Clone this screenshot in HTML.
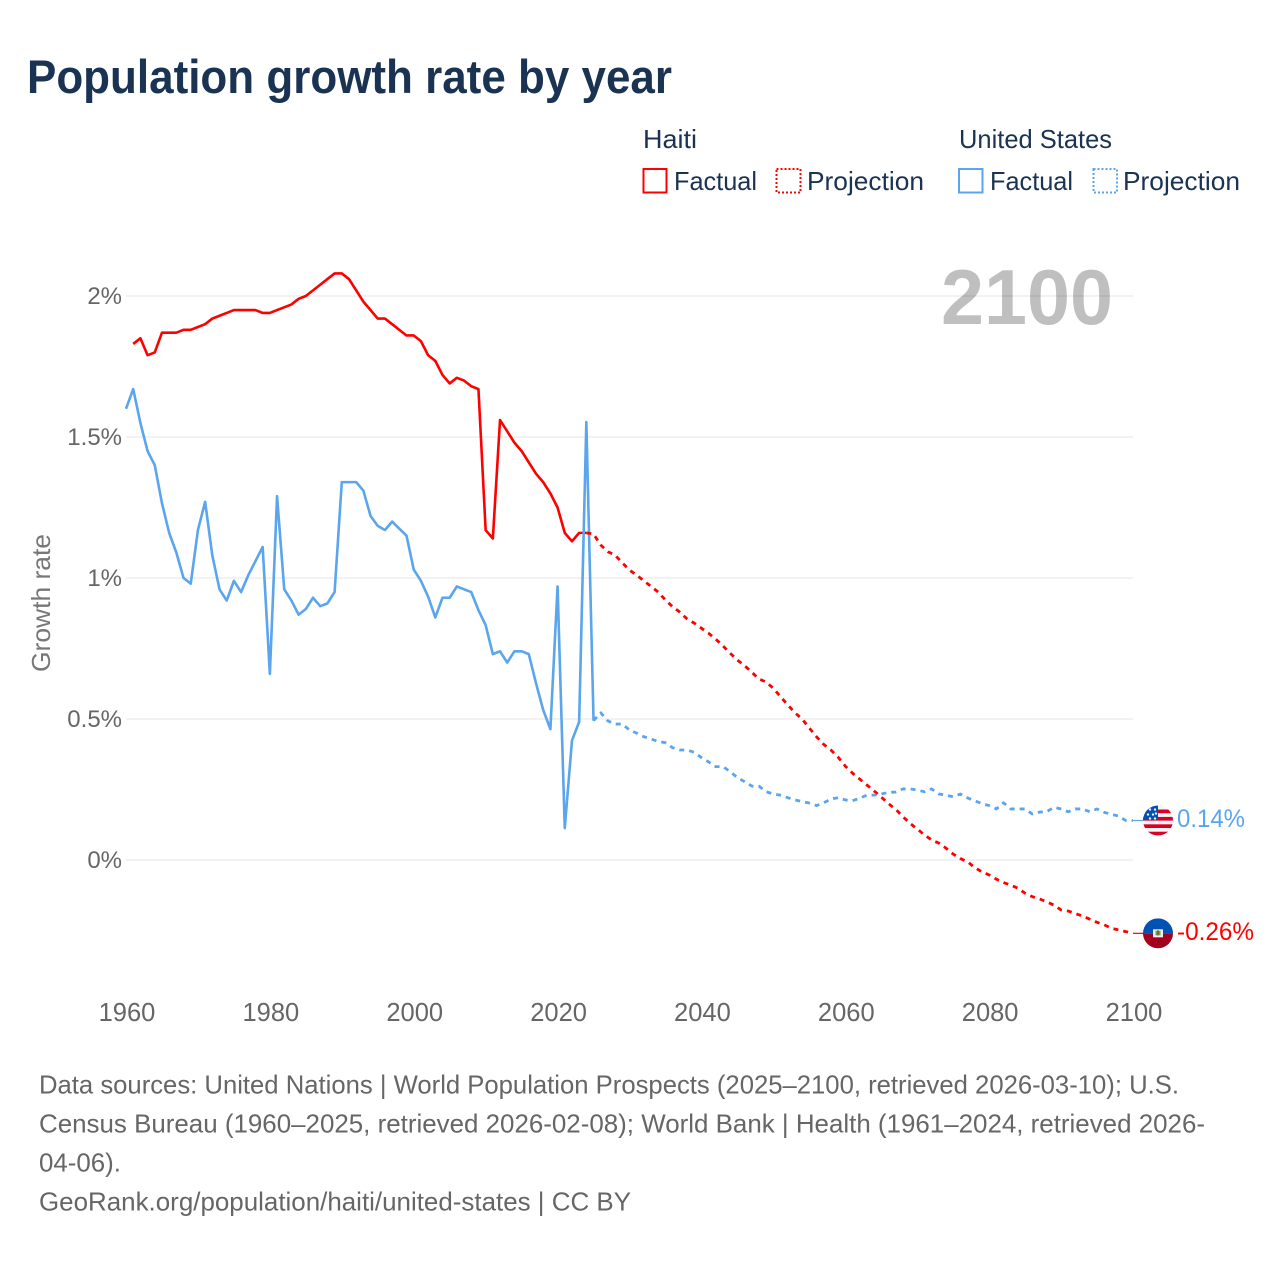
<!DOCTYPE html>
<html lang="en">
<head>
<meta charset="utf-8">
<title>Population growth rate by year</title>
<style>
html,body{margin:0;padding:0;background:#fff;width:1280px;height:1280px;overflow:hidden}
svg{display:block}
text{font-family:"Liberation Sans",sans-serif}
</style>
</head>
<body>
<svg id="chart" xmlns="http://www.w3.org/2000/svg" width="1280" height="1280" viewBox="0 0 1280 1280">
  <defs>
    <clipPath id="us-clip"><circle cx="0" cy="0" r="15"/></clipPath>
    <clipPath id="ht-clip"><circle cx="0" cy="0" r="15"/></clipPath>
  </defs>
  <rect width="1280" height="1280" fill="#fff"/>
  <text x="27" y="93" font-size="47" font-weight="700" fill="#1a3353" textLength="645" lengthAdjust="spacingAndGlyphs">Population growth rate by year</text>

  <g font-size="26" fill="#1a3353">
    <text x="643" y="148" textLength="54" lengthAdjust="spacingAndGlyphs">Haiti</text>
    <text x="959" y="148" textLength="153" lengthAdjust="spacingAndGlyphs">United States</text>
    <rect x="643.5" y="169" width="23" height="23.5" fill="none" stroke="#ff0000" stroke-width="2"/>
    <text x="674" y="190" textLength="83" lengthAdjust="spacingAndGlyphs">Factual</text>
    <rect x="776.5" y="169" width="24" height="23.5" fill="none" stroke="#ff0000" stroke-width="2" stroke-dasharray="2 2"/>
    <text x="807" y="190" textLength="117" lengthAdjust="spacingAndGlyphs">Projection</text>
    <rect x="959" y="169" width="23.5" height="23.5" fill="none" stroke="#5aa5ee" stroke-width="2"/>
    <text x="990" y="190" textLength="83" lengthAdjust="spacingAndGlyphs">Factual</text>
    <rect x="1093.5" y="169" width="23.5" height="23.5" fill="none" stroke="#5aa5ee" stroke-width="2" stroke-dasharray="2 2"/>
    <text x="1123" y="190" textLength="117" lengthAdjust="spacingAndGlyphs">Projection</text>
  </g>

  <g id="grid"></g>
  <g id="y-ticks" font-size="24" fill="#666" text-anchor="end"></g>
  <g id="x-ticks" font-size="25.5" fill="#666" text-anchor="middle"></g>
  <text transform="translate(50,672) rotate(-90)" font-size="26" fill="#777" textLength="138" lengthAdjust="spacingAndGlyphs">Growth rate</text>
  <text x="941" y="324" font-size="78" font-weight="700" fill="#000" fill-opacity="0.25" textLength="172" lengthAdjust="spacingAndGlyphs">2100</text>

  <g id="series" fill="none" stroke-width="2.6" stroke-linejoin="round"></g>
  <g id="end-markers"></g>

  <g font-size="26" fill="#666">
    <text x="39" y="1093.5" textLength="1140" lengthAdjust="spacingAndGlyphs">Data sources: United Nations | World Population Prospects (2025–2100, retrieved 2026-03-10); U.S.</text>
    <text x="39" y="1132.5" textLength="1166" lengthAdjust="spacingAndGlyphs">Census Bureau (1960–2025, retrieved 2026-02-08); World Bank | Health (1961–2024, retrieved 2026-</text>
    <text x="39" y="1171.5" textLength="82" lengthAdjust="spacingAndGlyphs">04-06).</text>
    <text x="39" y="1210.5" textLength="592" lengthAdjust="spacingAndGlyphs">GeoRank.org/population/haiti/united-states | CC BY</text>
  </g>
</svg>
<script>
var xTicks = [1960, 1980, 2000, 2020, 2040, 2060, 2080, 2100];
var yTicks = [0, 0.5, 1, 1.5, 2];
var yTickLabels = ['0%', '0.5%', '1%', '1.5%', '2%'];

var haitiFactualStart = 1961;
var haitiFactual = [1.83,1.85,1.79,1.80,1.87,1.87,1.87,1.88,1.88,1.89,1.90,1.92,1.93,1.94,1.95,1.95,1.95,1.95,1.94,1.94,1.95,1.96,1.97,1.99,2.00,2.02,2.04,2.06,2.08,2.08,2.06,2.02,1.98,1.95,1.92,1.92,1.90,1.88,1.86,1.86,1.84,1.79,1.77,1.72,1.69,1.71,1.70,1.68,1.67,1.17,1.14,1.56,1.52,1.48,1.45,1.41,1.37,1.34,1.30,1.25,1.16,1.13,1.16,1.16];

var haitiProjectionStart = 2024;
var haitiProjection = [1.16,1.156,1.117,1.093,1.081,1.054,1.028,1.01,0.99,0.97,0.95,0.922,0.898,0.879,0.855,0.84,0.822,0.804,0.783,0.759,0.733,0.709,0.689,0.666,0.642,0.631,0.609,0.579,0.55,0.522,0.50,0.468,0.437,0.41,0.39,0.365,0.333,0.308,0.287,0.266,0.245,0.223,0.2,0.18,0.154,0.13,0.11,0.089,0.071,0.06,0.042,0.021,0.005,-0.006,-0.027,-0.042,-0.053,-0.068,-0.08,-0.089,-0.10,-0.118,-0.13,-0.138,-0.148,-0.16,-0.177,-0.181,-0.19,-0.199,-0.21,-0.221,-0.23,-0.242,-0.248,-0.254,-0.26];

var usFactualStart = 1960;
var usFactual = [1.60,1.67,1.55,1.45,1.40,1.265,1.16,1.09,1.00,0.98,1.17,1.27,1.08,0.96,0.92,0.99,0.95,1.01,1.06,1.11,0.66,1.29,0.96,0.92,0.87,0.89,0.93,0.90,0.91,0.95,1.34,1.34,1.34,1.31,1.22,1.185,1.17,1.20,1.175,1.15,1.03,0.99,0.934,0.86,0.93,0.93,0.97,0.96,0.95,0.886,0.833,0.73,0.74,0.70,0.74,0.74,0.73,0.627,0.532,0.464,0.97,0.113,0.423,0.49,1.553,0.494];

var usProjectionStart = 2025;
var usProjection = [0.494,0.522,0.493,0.482,0.482,0.461,0.45,0.437,0.429,0.42,0.416,0.398,0.39,0.39,0.382,0.363,0.348,0.331,0.331,0.313,0.292,0.278,0.262,0.262,0.242,0.234,0.23,0.221,0.213,0.207,0.202,0.193,0.203,0.216,0.221,0.213,0.21,0.219,0.23,0.23,0.234,0.24,0.241,0.252,0.252,0.248,0.242,0.252,0.234,0.23,0.224,0.234,0.22,0.21,0.20,0.193,0.181,0.203,0.181,0.181,0.181,0.163,0.17,0.171,0.187,0.181,0.171,0.181,0.181,0.171,0.181,0.169,0.162,0.156,0.14,0.14];

var SVGNS = 'http://www.w3.org/2000/svg';
var RED = '#ff0000';
var BLUE = '#5aa5ee';

function xScale(year) { return 126 + (year - 1960) * (1133 - 126) / 140; }
function yScale(v) { return 860 - v * 282; }

function make(tag, attrs, parent) {
  var el = document.createElementNS(SVGNS, tag);
  for (var k in attrs) { el.setAttribute(k, attrs[k]); }
  parent.appendChild(el);
  return el;
}

function linePath(start, values) {
  var d = '';
  for (var i = 0; i < values.length; i++) {
    d += (i ? 'L' : 'M') + xScale(start + i).toFixed(2) + ' ' + yScale(values[i]).toFixed(2);
  }
  return d;
}

var gridLayer = document.getElementById('grid');
var yLayer = document.getElementById('y-ticks');
yTicks.forEach(function (t, i) {
  var line = make('line', { x1: 126, x2: 1133, y1: yScale(t), y2: yScale(t), stroke: '#eaeaea', 'stroke-width': 1.2 }, gridLayer);
  
  
  var label = make('text', { x: 122, y: yScale(t) + 8 }, yLayer);
  
  
  label.textContent = yTickLabels[i];
});

var xLayer = document.getElementById('x-ticks');
xTicks.forEach(function (t) {
  var label = make('text', { x: xScale(t) + 1, y: 1021 }, xLayer);
  
  
  label.textContent = String(t);
});

var seriesLayer = document.getElementById('series');

var haitiFactualLine = make('path', { d: linePath(haitiFactualStart, haitiFactual), stroke: RED }, seriesLayer);



var usFactualLine = make('path', { d: linePath(usFactualStart, usFactual), stroke: BLUE }, seriesLayer);



var haitiProjectionLine = make('path', { d: linePath(haitiProjectionStart, haitiProjection), stroke: RED, 'stroke-width': 2.8, 'stroke-dasharray': '5 5' }, seriesLayer);



var usProjectionLine = make('path', { d: linePath(usProjectionStart, usProjection), stroke: BLUE, 'stroke-width': 2.8, 'stroke-dasharray': '5 5' }, seriesLayer);



var markerLayer = document.getElementById('end-markers');
var flagX = 1158;
var usLast = usProjection[usProjection.length - 1];
var htLast = haitiProjection[haitiProjection.length - 1];
var usY = yScale(usLast);
var htY = yScale(htLast);

var usConnector = make('line', { x1: 1133, x2: 1144, y1: usY, y2: usY, stroke: BLUE, 'stroke-width': 1.2 }, markerLayer);


var htConnector = make('line', { x1: 1133, x2: 1144, y1: htY, y2: htY, stroke: RED, 'stroke-width': 1.2 }, markerLayer);



var usFlag = make('g', { transform: 'translate(' + flagX + ',' + usY + ')', 'clip-path': 'url(#us-clip)' }, markerLayer);


make('rect', { x: -15, y: -15, width: 30, height: 30, fill: '#f4f4f4' }, usFlag);
for (var s = 0; s < 4; s++) {
  make('rect', { x: -15, y: -11 + s * 7.4, width: 30, height: 3.7, fill: '#d80027' }, usFlag);
}
make('rect', { x: -15, y: -15, width: 15, height: 14.5, fill: '#0052b4' }, usFlag);
[[-8, -11], [-3, -11], [-10, -6], [-5, -6], [-8, -2], [-3, -2], [-2, -7]].forEach(function (p) {
  make('circle', { cx: p[0], cy: p[1], r: 1.2, fill: '#f4f4f4' }, usFlag);
});

var htFlag = make('g', { transform: 'translate(' + flagX + ',' + htY + ')', 'clip-path': 'url(#ht-clip)' }, markerLayer);


make('rect', { x: -15, y: -15, width: 30, height: 15, fill: '#0052b4' }, htFlag);
make('rect', { x: -15, y: 0, width: 30, height: 15, fill: '#a2001d' }, htFlag);
make('rect', { x: -5, y: -4, width: 10, height: 8, fill: '#f0f0f0' }, htFlag);
make('rect', { x: -2.5, y: -2.5, width: 5, height: 4.5, fill: '#6da544' }, htFlag);
make('rect', { x: -1, y: -3, width: 2, height: 5, fill: '#7a6a4a' }, htFlag);

var usValue = make('text', { x: 1177, y: usY + 6.5, 'font-size': 25, fill: BLUE, textLength: 68, lengthAdjust: 'spacingAndGlyphs' }, markerLayer);


usValue.textContent = usLast.toFixed(2) + '%';

var htValue = make('text', { x: 1177, y: htY + 6.5, 'font-size': 25, fill: RED, textLength: 77, lengthAdjust: 'spacingAndGlyphs' }, markerLayer);


htValue.textContent = htLast.toFixed(2) + '%';
</script>
</body>
</html>
